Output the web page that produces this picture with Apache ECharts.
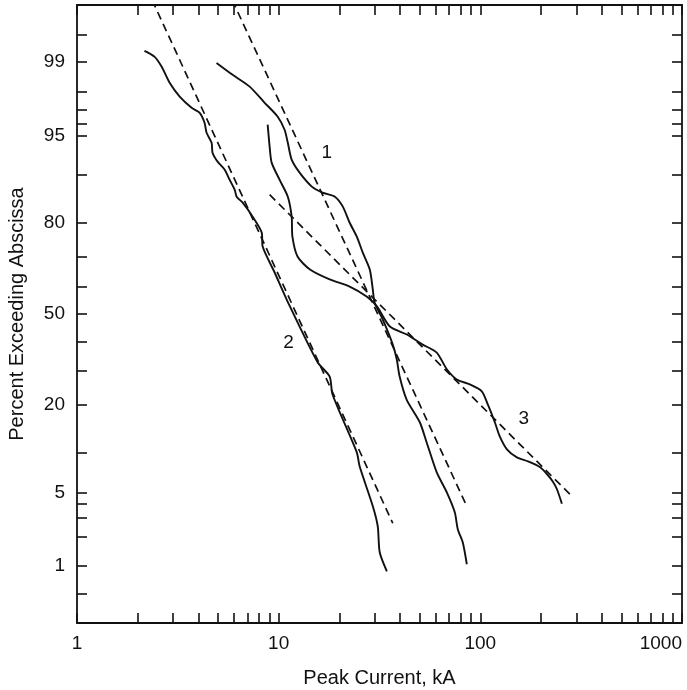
<!DOCTYPE html>
<html>
<head>
<meta charset="utf-8">
<script src="https://cdn.jsdelivr.net/npm/echarts@6/dist/echarts.min.js"></script>
<style>
  html, body { margin: 0; padding: 0; background: #fff; }
  #chart { width: 687px; height: 690px; }
</style>
</head>
<body>
<div id="chart"></div>
<script>
// peak current (kA) vs percent exceeding abscissa
const xTickValues = [1, 2, 3, 4, 5, 6, 7, 8, 9, 10, 20, 30, 40, 50, 60, 70, 80, 90, 100, 200, 300, 400, 500, 600, 700, 800, 900, 1000]
const xLabelValues = [1, 10, 100, 1000]
const yTickPcts = [0.5, 1, 2, 3, 4, 5, 10, 20, 30, 40, 50, 60, 70, 80, 90, 95, 96, 97, 98, 99, 99.5]
const yLabelPcts = [1, 5, 20, 50, 80, 95, 99]

const curve1 = [
  [4.92, 98.97], [5.91, 98.63], [7.18, 98.2], [8.52, 97.43], [9.89, 96.56], [10.7, 95.54],
  [11.1, 94.29], [11.6, 92.27], [12.7, 90.38], [14.6, 88.0], [16.5, 86.85], [19.0, 86.04],
  [20.8, 83.9], [22.5, 80.0], [24.4, 76.2], [26.1, 71.5], [28.3, 65.9], [29.3, 58.9],
  [29.9, 54.2], [32.8, 48.0], [36.8, 38.9], [38.5, 33.8], [39.8, 28.2], [43.1, 21.5],
  [50.1, 15.9], [54.2, 11.8], [60.8, 7.2], [68.2, 5.0], [74.7, 3.37], [77.3, 2.36],
  [81.8, 1.76], [85.7, 1.05]
]
const curve2 = [
  [2.16, 99.24], [2.42, 99.12], [2.63, 98.87], [2.88, 98.35], [3.23, 97.75], [3.7, 97.14],
  [4.05, 96.83], [4.29, 96.11], [4.39, 95.27], [4.65, 94.29], [4.7, 93.16], [4.98, 92.0],
  [5.4, 90.84], [5.71, 89.23], [6.05, 87.43], [6.19, 86.04], [6.63, 84.78], [7.43, 81.54],
  [8.24, 77.37], [8.33, 73.3], [9.55, 64.9], [10.96, 55.3], [15.6, 32.8], [17.9, 28.2],
  [18.5, 22.9], [24.4, 10.1], [25.2, 8.0], [29.3, 3.81], [31.0, 2.51], [31.7, 1.4], [34.4, 0.88]
]
const curve3 = [
  [8.82, 95.96], [9.02, 93.86], [9.23, 91.87], [10.1, 89.23], [11.1, 86.04], [11.6, 81.54],
  [11.7, 76.2], [12.4, 70.2], [14.3, 65.9], [17.9, 62.5], [22.5, 60.0], [27.3, 56.4],
  [30.7, 52.8], [35.6, 45.4], [43.2, 42.5], [51.8, 38.9], [60.8, 36.1], [68.2, 30.5],
  [76.4, 27.3], [88.7, 25.8], [101.7, 23.8], [108.9, 20.2], [118.0, 15.9], [125.0, 12.9],
  [135.5, 10.6], [151.8, 9.3], [172.2, 8.7], [197.3, 7.9], [213.8, 7.0], [229.1, 6.1],
  [239.9, 5.3], [253.8, 4.0]
]
// fitted log-normal lines (dashed)
const fit1 = [[5.89, 99.81], [85.7, 3.81]]
const fit2 = [[2.36, 99.81], [36.8, 2.68]]
const fit3 = [[9.02, 86.45], [281.3, 4.73]]

const curveNames = ['1', '2', '3']
const curveNamePoints = [[17.3, 93.2], [11.2, 39.6], [164.4, 16.8]]

// inverse normal cdf (Acklam), percent -> probit z
function probit(pct) {
  const p = pct / 100
  const a = [-39.69683028665376, 220.9460984245205, -275.9285104469687, 138.357751867269, -30.66479806614716, 2.506628277459239]
  const b = [-54.47609879822406, 161.5858368580409, -155.6989798598866, 66.80131188771972, -13.28068155288572]
  const c = [-0.007784894002430293, -0.3223964580411365, -2.400758277161838, -2.549732539343734, 4.374664141464968, 2.938163982698783]
  const d = [0.007784695709041462, 0.3224671290700398, 2.445134137142996, 3.754408661907416]
  const plow = 0.02425
  let q, r
  if (p < plow) {
    q = Math.sqrt(-2 * Math.log(p))
    return (((((c[0] * q + c[1]) * q + c[2]) * q + c[3]) * q + c[4]) * q + c[5]) /
      ((((d[0] * q + d[1]) * q + d[2]) * q + d[3]) * q + 1)
  }
  if (p > 1 - plow) {
    q = Math.sqrt(-2 * Math.log(1 - p))
    return -(((((c[0] * q + c[1]) * q + c[2]) * q + c[3]) * q + c[4]) * q + c[5]) /
      ((((d[0] * q + d[1]) * q + d[2]) * q + d[3]) * q + 1)
  }
  q = p - 0.5
  r = q * q
  return (((((a[0] * r + a[1]) * r + a[2]) * r + a[3]) * r + a[4]) * r + a[5]) * q /
    (((((b[0] * r + b[1]) * r + b[2]) * r + b[3]) * r + b[4]) * r + 1)
}

const toZ = arr => arr.map(([ka, pct]) => [ka, probit(pct)])
const yTickZ = yTickPcts.map(probit)
const yLabelZ = yLabelPcts.map(probit)

const font = "'Liberation Sans', Arial, sans-serif"
const ink = '#111'

const xAxisBase = {
  type: 'log',
  logBase: 10,
  min: 1,
  max: 1000,
  axisLine: { show: true, onZero: false, lineStyle: { color: ink, width: 1.8 } },
  axisTick: { show: true, inside: true, length: 10, customValues: xTickValues, lineStyle: { color: ink, width: 1.6 } },
  splitLine: { show: false },
  minorTick: { show: false },
}
const yAxisBase = {
  type: 'value',
  min: -2.85,
  max: 2.85,
  axisLine: { show: true, onZero: false, lineStyle: { color: ink, width: 1.8 } },
  axisTick: { show: true, inside: true, length: 10, customValues: yTickZ, lineStyle: { color: ink, width: 1.6 } },
  splitLine: { show: false },
}

const lineSeries = (data, dashed) => ({
  type: 'line',
  data: toZ(data),
  showSymbol: false,
  symbol: 'none',
  smooth: dashed ? false : 0.25,
  clip: true,
  silent: true,
  lineStyle: { color: ink, width: dashed ? 1.7 : 1.9, type: dashed ? [8, 5] : 'solid' },
  z: dashed ? 2 : 3,
})

const chart = echarts.init(document.getElementById('chart'), null, { renderer: 'canvas' })
chart.setOption({
  animation: false,
  backgroundColor: '#fff',
  grid: { left: 77, right: 5, top: 5, bottom: 67, containLabel: false, outerBoundsMode: 'none' },
  xAxis: [
    {
      ...xAxisBase,
      position: 'bottom',
      name: 'Peak Current, kA',
      nameLocation: 'middle',
      nameGap: 45,
      nameTextStyle: { color: ink, fontSize: 20, fontFamily: font },
      axisLabel: {
        show: true,
        customValues: xLabelValues,
        margin: 11,
        color: ink,
        fontSize: 19,
        fontFamily: font,
        alignMaxLabel: 'right',
        formatter: v => String(Math.round(v)),
      },
    },
    { ...xAxisBase, position: 'top', axisLabel: { show: false } },
  ],
  yAxis: [
    {
      ...yAxisBase,
      position: 'left',
      name: 'Percent Exceeding Abscissa',
      nameLocation: 'middle',
      nameGap: 50,
      nameTextStyle: { color: ink, fontSize: 20, fontFamily: font },
      axisLabel: {
        show: true,
        customValues: yLabelZ,
        margin: 12,
        color: ink,
        fontSize: 19,
        fontFamily: font,
        formatter: v => {
          let best = yLabelPcts[0]
          yLabelPcts.forEach(p => { if (Math.abs(probit(p) - v) < Math.abs(probit(best) - v)) best = p })
          return String(best)
        },
      },
    },
    { ...yAxisBase, position: 'right', axisLabel: { show: false } },
  ],
  series: [
    lineSeries(fit1, true),
    lineSeries(fit2, true),
    lineSeries(fit3, true),
    lineSeries(curve1, false),
    lineSeries(curve2, false),
    lineSeries(curve3, false),
    {
      type: 'scatter',
      symbolSize: 0,
      silent: true,
      itemStyle: { opacity: 1 },
      data: curveNamePoints.map((pt, i) => ({ value: [pt[0], probit(pt[1])], name: curveNames[i] })),
      label: {
        show: true,
        position: 'inside',
        formatter: p => p.name,
        color: ink,
        opacity: 1,
        fontSize: 19,
        fontFamily: font,
      },
    },
  ],
})
</script>
</body>
</html>
